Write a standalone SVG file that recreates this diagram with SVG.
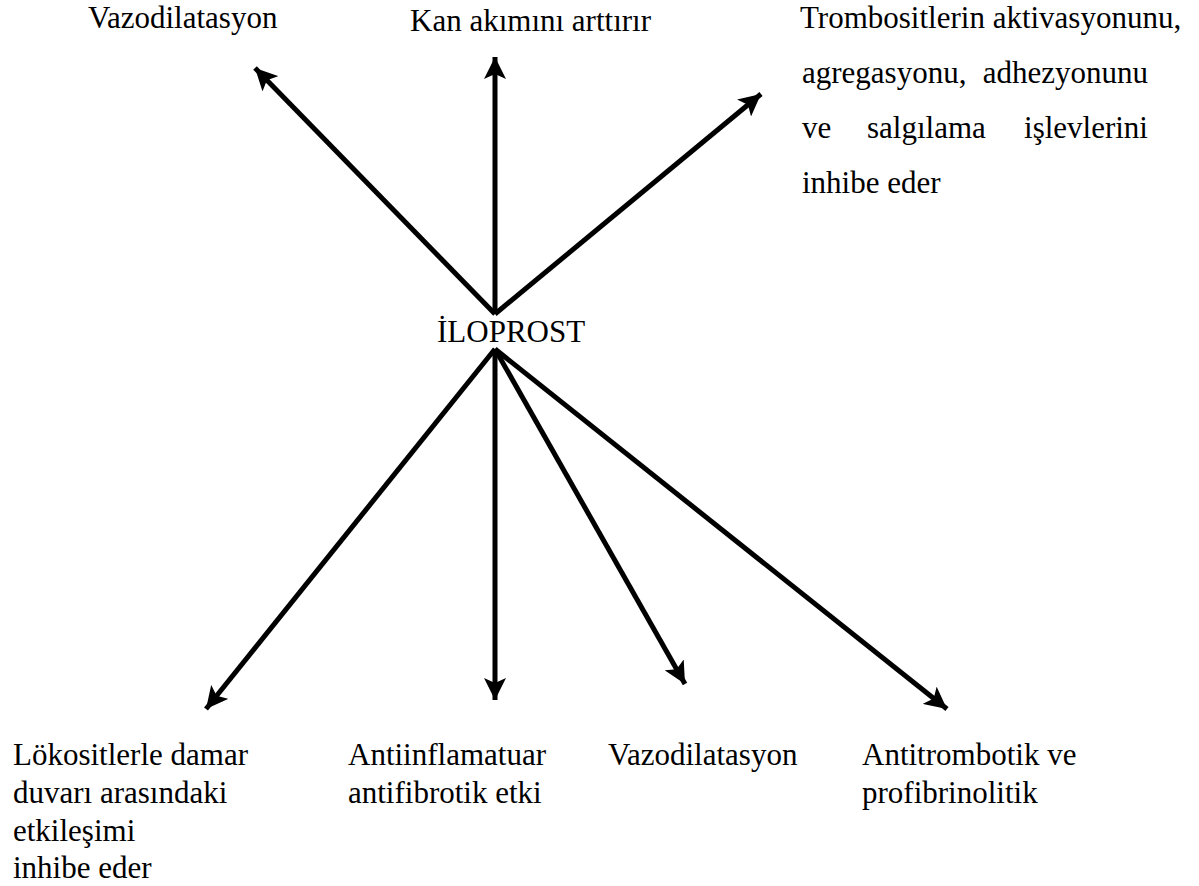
<svg xmlns="http://www.w3.org/2000/svg" width="1199" height="886" viewBox="0 0 1199 886">
<style>
text{font-family:"Liberation Serif","Times New Roman","DejaVu Serif",serif;font-size:31px;fill:#000}
.c line{stroke:#000;stroke-width:5;marker-end:url(#ah)}
</style>
<defs>
<marker id="ah" markerUnits="userSpaceOnUse" markerWidth="24" markerHeight="22" refX="22" refY="11" orient="auto">
<path d="M0,0 L22,11 L0,22 L5,11 Z" fill="#000"/>
</marker>
</defs>
<rect width="1199" height="886" fill="#fff"/>
<g class="c" id="connectors">
<line x1="495" y1="314" x2="255" y2="68"/>
<line x1="495" y1="314" x2="495" y2="57"/>
<line x1="495" y1="314" x2="761" y2="94"/>
<line x1="495" y1="349" x2="206" y2="709"/>
<line x1="495" y1="349" x2="495" y2="700"/>
<line x1="495" y1="349" x2="685" y2="684"/>
<line x1="495" y1="349" x2="947" y2="709"/>
</g>
<g id="center"><text x="437" y="342">İLOPROST</text></g>
<g id="t1"><text x="88" y="28">Vazodilatasyon</text></g>
<g id="t2"><text x="410" y="31">Kan akımını arttırır</text></g>
<g id="t3">
<text x="800" y="28">Trombositlerin aktivasyonunu,</text>
<text x="802" y="83">agregasyonu,</text>
<text x="1148" y="83" text-anchor="end">adhezyonunu</text>
<text x="802" y="138">ve</text>
<text x="867" y="138">salgılama</text>
<text x="1148" y="138" text-anchor="end">işlevlerini</text>
<text x="802" y="193">inhibe eder</text>
</g>
<g id="b1">
<text x="13" y="765">Lökositlerle damar</text>
<text x="13" y="803">duvarı arasındaki</text>
<text x="13" y="841">etkileşimi</text>
<text x="13" y="878">inhibe eder</text>
</g>
<g id="b2">
<text x="348" y="765">Antiinflamatuar</text>
<text x="348" y="803">antifibrotik etki</text>
</g>
<g id="b3"><text x="608" y="765">Vazodilatasyon</text></g>
<g id="b4">
<text x="862" y="765">Antitrombotik ve</text>
<text x="862" y="803">profibrinolitik</text>
</g>
</svg>
